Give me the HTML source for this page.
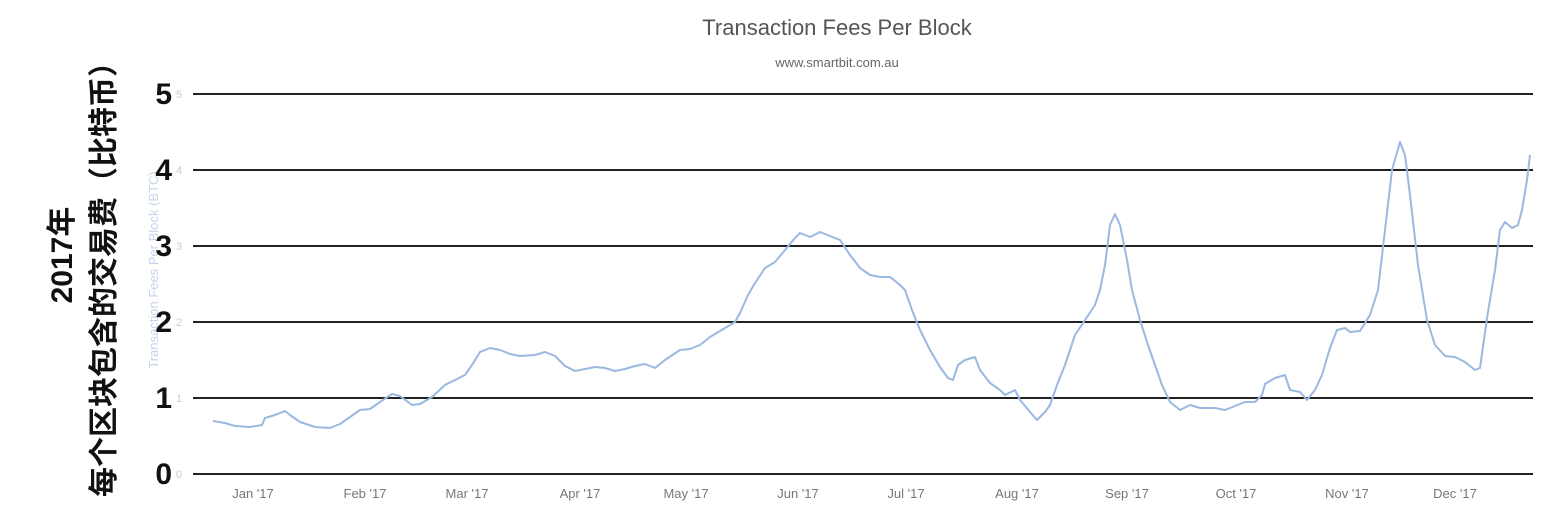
<!DOCTYPE html>
<html><head><meta charset="utf-8"><style>
html,body{margin:0;padding:0;background:#fff;width:1566px;height:524px;overflow:hidden}
</style></head><body>
<svg width="1566" height="524" xmlns="http://www.w3.org/2000/svg" font-family="Liberation Sans, sans-serif">
<text x="837" y="35" text-anchor="middle" font-size="22" fill="#555">Transaction Fees Per Block</text>
<text x="837" y="67" text-anchor="middle" font-size="13" fill="#666">www.smartbit.com.au</text>
<g stroke="#222" stroke-width="2">
<line x1="193" x2="1533" y1="94" y2="94"/><line x1="193" x2="1533" y1="170" y2="170"/>
<line x1="193" x2="1533" y1="246" y2="246"/><line x1="193" x2="1533" y1="322" y2="322"/>
<line x1="193" x2="1533" y1="398" y2="398"/><line x1="193" x2="1533" y1="474" y2="474"/>
</g>
<g font-size="11" fill="#ccc"><text x="176" y="98">5</text><text x="176" y="174">4</text><text x="176" y="250">3</text><text x="176" y="326">2</text><text x="176" y="402">1</text><text x="176" y="478">0</text></g>
<text transform="translate(158,270) rotate(-90)" text-anchor="middle" font-size="13" fill="#c5d3ee">Transaction Fees Per Block (BTC)</text>
<g font-size="30" font-weight="bold" fill="#111" text-anchor="end"><text x="172" y="104">5</text><text x="172" y="180">4</text><text x="172" y="256">3</text><text x="172" y="332">2</text><text x="172" y="408">1</text><text x="172" y="484">0</text></g>
<g font-size="30" font-weight="bold" fill="#111" text-anchor="middle" font-family="Liberation Sans, Noto Sans CJK SC, sans-serif">
<text transform="translate(72,255) rotate(-90)">2017年</text>
<text transform="translate(114,272) rotate(-90)">每个区块包含的交易费（比特币）</text>
</g>
<g font-size="13" fill="#777" text-anchor="middle">
<text x="253" y="498">Jan '17</text><text x="365" y="498">Feb '17</text><text x="467" y="498">Mar '17</text><text x="580" y="498">Apr '17</text><text x="686" y="498">May '17</text><text x="798" y="498">Jun '17</text><text x="906" y="498">Jul '17</text><text x="1017" y="498">Aug '17</text><text x="1127" y="498">Sep '17</text><text x="1236" y="498">Oct '17</text><text x="1347" y="498">Nov '17</text><text x="1455" y="498">Dec '17</text>
</g>
<polyline fill="none" stroke="#9ab8e0" stroke-width="2" stroke-linejoin="round" points="213,421 225,423 235,426 250,427 262,425 265,418 275,415 285,411 290,415 300,422 315,427 330,428 340,424 350,417 360,410 370,409 380,402 392,394 400,396 412,405 420,404 432,397 445,385 455,380 465,375 472,365 480,352 490,348 500,350 510,354 520,356 535,355 545,352 555,356 565,366 575,371 585,369 595,367 605,368 615,371 625,369 635,366 645,364 655,368 665,360 680,350 690,349 700,345 710,337 720,331 735,322 740,313 748,295 755,283 765,268 775,262 785,250 795,238 800,233 810,237 820,232 830,236 840,240 850,255 860,268 870,275 880,277 890,277 900,285 905,290 912,310 920,330 930,350 940,367 948,378 953,380 958,365 965,360 975,357 980,370 990,383 1000,390 1005,395 1015,390 1020,400 1030,412 1037,420 1045,412 1050,405 1057,385 1065,365 1075,335 1085,320 1095,305 1100,290 1105,265 1110,225 1115,214 1120,225 1127,260 1132,290 1140,320 1148,345 1155,365 1162,385 1170,402 1180,410 1190,405 1200,408 1215,408 1225,410 1235,406 1245,402 1255,402 1262,395 1265,384 1275,378 1285,375 1290,390 1300,392 1307,400 1315,390 1322,375 1330,348 1337,330 1345,328 1350,332 1360,331 1370,315 1378,290 1385,230 1392,170 1400,142 1405,155 1410,195 1418,265 1427,320 1435,345 1445,356 1455,357 1465,362 1475,370 1480,368 1487,318 1495,270 1500,230 1505,222 1512,228 1518,225 1522,210 1527,180 1530,155"/>
</svg>
</body></html>
